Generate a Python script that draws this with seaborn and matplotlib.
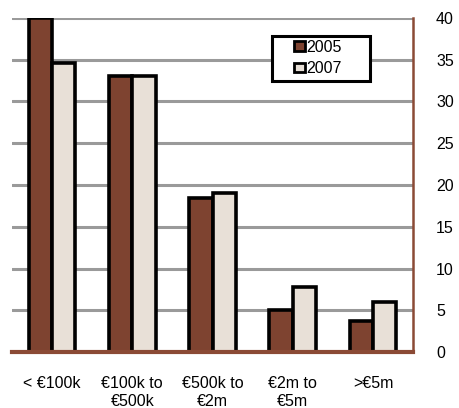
import matplotlib
matplotlib.use("Agg")
import matplotlib.pyplot as plt
import matplotlib.patches as mpatches
import seaborn as sns
import pandas as pd

categories = ["< €100k", "€100k to\n€500k", "€500k to\n€2m", "€2m to\n€5m", ">€5m"]
years = ["2005", "2007"]
values_2005 = [40, 33, 18.4, 5, 3.7]
values_2007 = [34.6, 33, 19, 7.8, 6]

df = pd.DataFrame({
    "cat": categories * 2,
    "year": [years[0]] * 5 + [years[1]] * 5,
    "val": values_2005 + values_2007,
})

sns.set_style("white")
plt.rcParams['font.family'] = ['Liberation Sans', 'DejaVu Sans']
plt.rcParams['text.color'] = 'black'

fig = plt.figure(figsize=(4.6, 4.08), dpi=100)
ax = fig.add_axes([0.026, 0.137, 0.872, 0.819])

palette = {"2005": "#7E4330", "2007": "#E8E0D7"}
sns.barplot(data=df, x="cat", y="val", hue="year", palette=palette, ax=ax,
            width=0.58, edgecolor="black", linewidth=2.6, saturation=1, errorbar=None,
            zorder=3)

ax.set_ylim(0, 40)
ax.set_xlim(-0.5, 4.5)
ax.set_yticks(range(0, 41, 5))
ax.yaxis.tick_right()
ax.tick_params(axis="y", length=0, pad=16.5, labelsize=11.5, labelcolor="black")
ax.tick_params(axis="x", length=0, pad=17.5, labelsize=11.5, labelcolor="black")
for t in ax.get_xticklabels():
    t.set_linespacing(1.2)
ax.set_xlabel("")
ax.set_ylabel("")
for y in range(5, 41, 5):
    ax.axhline(y, color="#9a9a9a", lw=2.2, zorder=1)

for s in ["top", "left"]:
    ax.spines[s].set_visible(False)
for s in ["right", "bottom"]:
    ax.spines[s].set_visible(True)
    ax.spines[s].set_color("#8B4A35")
ax.spines["right"].set_linewidth(1.8)
ax.spines["bottom"].set_linewidth(3)
ax.spines["bottom"].set_zorder(4)

leg = ax.legend(loc="upper left", bbox_to_anchor=(0.703, 0.935), frameon=False,
                handlelength=0.7, handleheight=0.55,
                handletextpad=0.1, borderpad=0, labelspacing=0.4, fontsize=11.5,
                borderaxespad=0)
for h in leg.legend_handles:
    h.set_linewidth(2.0)
for t in leg.get_texts():
    t.set_color("black")
frame = mpatches.Rectangle((0.648, 0.811), 0.245, 0.135, transform=ax.transAxes,
                           facecolor="white", edgecolor="black", lw=2.2, zorder=5)
ax.add_patch(frame)
leg.set_zorder(6)

fig.savefig("out.png", dpi=100)
